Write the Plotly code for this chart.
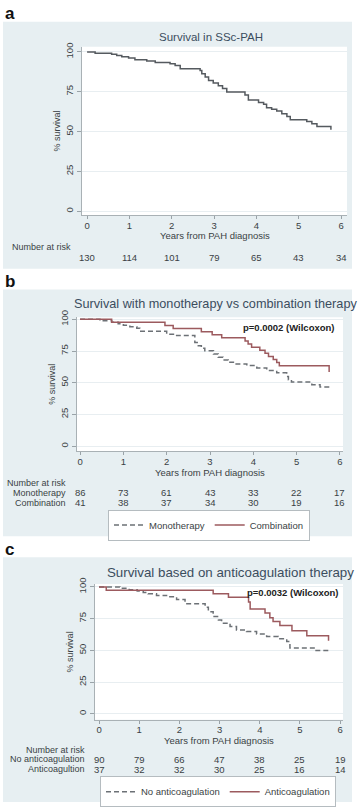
import plotly.graph_objects as go

W, H = 358, 808

# ---------------- data ----------------
ticks_years = [0, 1, 2, 3, 4, 5, 6]
ticks_surv = [0, 25, 50, 75, 100]

# Panel a: overall survival
a_t = [0, 0.19, 0.58, 0.70, 0.82, 0.98, 1.13, 1.41, 1.61, 1.96, 2.08, 2.20, 2.67, 2.71,
       2.79, 2.87, 2.98, 3.10, 3.20, 3.30, 3.73, 3.81, 4.05, 4.17, 4.24, 4.36, 4.48,
       4.60, 4.72, 4.80, 5.19, 5.31, 5.43, 5.76]
a_s = [100, 99.1, 98.5, 97.8, 97.0, 96.2, 95.1, 94.3, 93.3, 92.5, 91.4, 89.4, 88.3, 86.3,
       84.2, 82.1, 80.5, 78.8, 77.0, 74.9, 72.9, 69.8, 68.3, 67.1, 65.0, 64.0, 62.9,
       61.1, 59.4, 57.4, 56.3, 54.9, 53.2, 51.2]
a_risk = [130, 114, 101, 79, 65, 43, 34]

# Panel b: monotherapy vs combination
b_mono_t = [0, 0.46, 0.73, 0.88, 1.00, 1.15, 1.31, 1.38, 2.00, 2.23, 2.65, 2.73, 2.80, 2.88,
            3.08, 3.19, 3.30, 3.42, 3.58, 3.85, 4.08, 4.31, 4.54, 4.77, 4.81, 4.88, 5.35,
            5.54, 5.77]
b_mono_s = [100, 98.8, 97.7, 96.5, 95.3, 94.2, 93.0, 90.5, 88.3, 87.2, 81.8, 79.1, 77.2, 75.2,
            72.7, 70.1, 68.0, 66.2, 64.8, 63.5, 61.7, 59.6, 57.8, 55.0, 52.3, 50.6, 48.5,
            46.6, 46.6]
b_comb_t = [0, 0.73, 1.96, 2.15, 2.80, 3.05, 3.27, 3.81, 3.88, 3.96, 4.15, 4.27, 4.35, 4.46,
            4.54, 4.60, 5.75]
b_comb_s = [100, 97.6, 95.1, 92.7, 90.2, 87.8, 85.4, 82.9, 80.5, 78.0, 75.6, 73.2, 70.7, 68.3,
            65.9, 63.4, 58.5]
b_risk_mono = [86, 73, 61, 43, 33, 22, 17]
b_risk_comb = [41, 38, 37, 34, 30, 19, 16]

# Panel c: anticoagulation
c_no_t = [0, 0.52, 0.75, 0.95, 1.10, 1.22, 1.43, 1.68, 1.93, 2.14, 2.64, 2.72, 2.84, 2.97,
          3.05, 3.26, 3.42, 3.67, 3.92, 4.17, 4.46, 4.67, 4.75, 5.38, 5.75]
c_no_s = [100, 98.9, 97.8, 96.7, 95.6, 94.5, 93.3, 92.2, 90.0, 86.7, 84.0, 80.5, 76.6, 74.0,
          71.4, 68.8, 66.1, 64.8, 62.8, 60.9, 59.1, 57.0, 51.8, 49.8, 49.8]
c_anti_t = [0, 0.18, 2.84, 3.22, 3.72, 3.76, 4.13, 4.25, 4.33, 4.50, 4.80, 5.17, 5.71]
c_anti_s = [100, 97.3, 94.6, 91.9, 88.0, 82.6, 79.4, 75.6, 72.7, 69.5, 65.4, 61.5, 57.6]
c_risk_no = [90, 79, 66, 47, 38, 25, 19]
c_risk_anti = [37, 32, 32, 30, 25, 16, 14]

titles = ["Survival in SSc-PAH",
          "Survival with monotherapy vs combination therapy",
          "Survival based on anticoagulation therapy"]
pvals = ["p=0.0002 (Wilcoxon)", "p=0.0032 (Wilcoxon)"]

# ---------------- style ----------------
FONT = "Liberation Sans, Arial, sans-serif"
PANEL_BG = "#e7eff2"
C_SOLID = "#9c5a5e"
C_DASH = "#6c7176"
C_A = "#555a5f"
TXT = "#3a3f44"
TITLE_C = "#3b4d5e"


def px_x(v):
    return v / W


def px_y(v):
    return 1 - v / H


fig = go.Figure()

fig.add_trace(go.Scatter(x=a_t, y=a_s, mode="lines", line=dict(shape="hv", color=C_A, width=1.5),
                         showlegend=False, xaxis="x", yaxis="y", hoverinfo="skip"))
fig.add_trace(go.Scatter(x=b_mono_t, y=b_mono_s, mode="lines", name="Monotherapy",
                         line=dict(shape="hv", color=C_DASH, width=1.5, dash="5px,3px"),
                         xaxis="x2", yaxis="y2", legend="legend2"))
fig.add_trace(go.Scatter(x=b_comb_t, y=b_comb_s, mode="lines", name="Combination",
                         line=dict(shape="hv", color=C_SOLID, width=1.5),
                         xaxis="x2", yaxis="y2", legend="legend2"))
fig.add_trace(go.Scatter(x=c_no_t, y=c_no_s, mode="lines", name="No anticoagulation",
                         line=dict(shape="hv", color=C_DASH, width=1.5, dash="5px,3px"),
                         xaxis="x3", yaxis="y3", legend="legend3"))
fig.add_trace(go.Scatter(x=c_anti_t, y=c_anti_s, mode="lines", name="Anticoagulation",
                         line=dict(shape="hv", color=C_SOLID, width=1.5),
                         xaxis="x3", yaxis="y3", legend="legend3"))

panels = [
    dict(px=(82, 347, 40, 210), xr=(-0.12, 6.14), yr=(-2.5, 103.3), box=(15, 264), xt=231),
    dict(px=(77, 343, 313, 448), xr=(-0.07, 6.07), yr=(-3.9, 101.6), box=(285, 534), xt=470),
    dict(px=(95, 343, 582, 719), xr=(-0.10, 6.07), yr=(-4.7, 102.3), box=(555, 802), xt=740),
]

layout = dict(width=W, height=H, margin=dict(l=0, r=0, t=0, b=0),
              paper_bgcolor="white", plot_bgcolor="rgba(0,0,0,0)",
              font=dict(family=FONT, color=TXT, size=9))
shapes = []
annotations = []
for i, p in enumerate(panels):
    sfx = "" if i == 0 else str(i + 1)
    x0, x1, y0, y1 = p["px"]
    layout["xaxis" + sfx] = dict(
        domain=[px_x(x0), px_x(x1)], range=list(p["xr"]), anchor="y" + sfx,
        tickmode="array", tickvals=ticks_years, ticks="outside", ticklen=3,
        ticklabelstandoff=-2,
        tickcolor="#9aa3a8", showline=True, linecolor="#a9b1b5", linewidth=1,
        showgrid=False, zeroline=False, tickfont=dict(size=9.5, color=TXT),
        fixedrange=True)
    layout["yaxis" + sfx] = dict(
        domain=[px_y(y1), px_y(y0)], range=list(p["yr"]), anchor="x" + sfx,
        tickmode="array", tickvals=ticks_surv, ticks="outside", ticklen=4, tickangle=-90,
        tickcolor="#9aa3a8", showline=True, linecolor="#a9b1b5", linewidth=1,
        showgrid=True, gridcolor="#e8eef1", gridwidth=1, zeroline=False,
        tickfont=dict(size=9.5, color=TXT),
        title=dict(text="% survival", font=dict(size=9, color=TXT), standoff=2),
        fixedrange=True)
    annotations.append(dict(text="Years from PAH diagnosis", x=px_x((x0 + x1) / 2),
                            y=px_y(p["xt"]), xref="paper", yref="paper", xanchor="center",
                            yanchor="middle", showarrow=False, font=dict(size=9.5, color=TXT)))
    shapes.append(dict(type="rect", xref="paper", yref="paper", layer="below",
                       x0=px_x(3), x1=px_x(352), y0=px_y(p["box"][1]), y1=px_y(p["box"][0]),
                       fillcolor=PANEL_BG, line=dict(width=0)))
    shapes.append(dict(type="rect", xref="x%s domain" % sfx, yref="y%s domain" % sfx,
                       layer="below", x0=0, x1=1, y0=0, y1=1,
                       fillcolor="white", line=dict(width=0)))

for lab, yy in zip(["a", "b", "c"], [7, 277, 547]):
    annotations.append(dict(text="<b>%s</b>" % lab, x=px_x(3), y=px_y(yy), xref="paper",
                            yref="paper", xanchor="left", yanchor="middle", showarrow=False,
                            font=dict(size=17, color="#111", family=FONT)))

for t, (cx, cy, fs) in zip(titles, [(211, 30, 11.5), (215, 300, 12.7), (230, 570, 13.3)]):
    annotations.append(dict(text=t, x=px_x(cx), y=px_y(cy), xref="paper", yref="paper",
                            xanchor="center", yanchor="middle", showarrow=False,
                            font=dict(size=fs, color=TITLE_C, family=FONT)))

for t, (rx, cy) in zip(pvals, [(337, 323), (341, 591)]):
    annotations.append(dict(text="<b>%s</b>" % t, x=px_x(rx), y=px_y(cy), xref="paper",
                            yref="paper", xanchor="right", yanchor="middle", showarrow=False,
                            font=dict(size=9.5, color="#222", family=FONT)))


def risk_rows(xref, label_rx, head_y, rows):
    annotations.append(dict(text="Number at risk", x=px_x(label_rx), y=px_y(head_y),
                            xref="paper", yref="paper", xanchor="right", yanchor="middle",
                            showarrow=False, font=dict(size=9, color=TXT)))
    for name, vals, yy in rows:
        if name:
            annotations.append(dict(text=name, x=px_x(label_rx), y=px_y(yy), xref="paper",
                                    yref="paper", xanchor="right", yanchor="middle",
                                    showarrow=False, font=dict(size=9, color=TXT)))
        for tv, v in zip(ticks_years, vals):
            annotations.append(dict(text=str(v), x=tv, y=px_y(yy), xref=xref, yref="paper",
                                    xanchor="center", yanchor="middle", showarrow=False,
                                    font=dict(size=9.5, color=TXT)))


risk_rows("x", 73, 242, [("", a_risk, 253)])
risk_rows("x2", 68, 480, [("Monotherapy", b_risk_mono, 490), ("Combination", b_risk_comb, 500)])
risk_rows("x3", 87, 749, [("No anticoagulation", c_risk_no, 759),
                          ("Anticoagultion", c_risk_anti, 769)])

leg_common = dict(orientation="h", xanchor="left", yanchor="top", bgcolor="white",
                  bordercolor="#b5bcc0", borderwidth=1, font=dict(size=9.5, color=TXT),
                  itemwidth=30, tracegroupgap=0)
layout["legend2"] = dict(leg_common, x=px_x(108), y=px_y(507))
layout["legend3"] = dict(leg_common, x=px_x(100), y=px_y(776))
layout["shapes"] = shapes
layout["annotations"] = annotations
fig.update_layout(**layout)

fig.write_html("out.html", config={"displayModeBar": False},
               post_script="document.body.style.margin='0';")
